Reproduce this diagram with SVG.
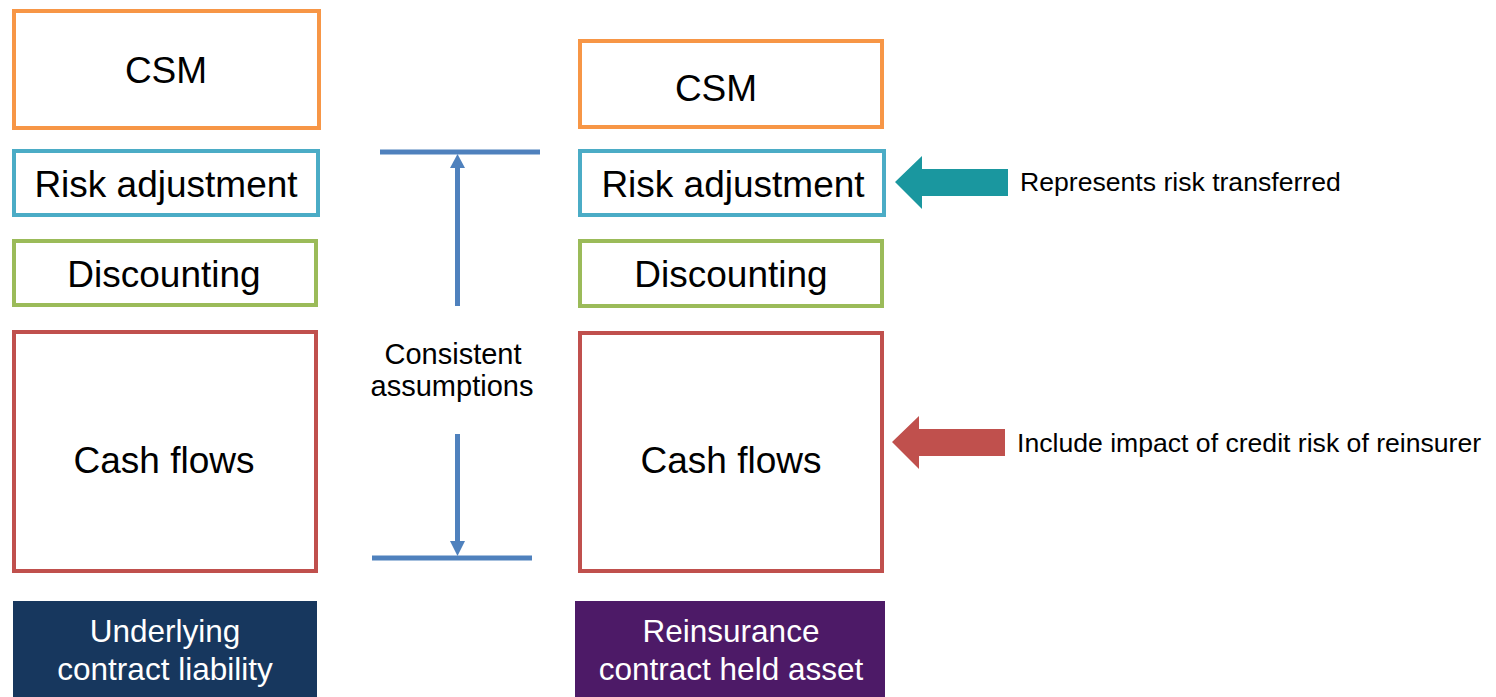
<svg xmlns="http://www.w3.org/2000/svg" width="1496" height="697" viewBox="0 0 1496 697">
  <defs>
    <style>
      .box { fill: #ffffff; stroke-width: 4; }
      .csm { stroke: #F79646; }
      .ra { stroke: #4BACC6; }
      .disc { stroke: #9BBB59; }
      .cf { stroke: #C0504D; }
      .lbl { font-family: "Liberation Sans", Arial, sans-serif; font-size: 37px; fill: #000000; text-anchor: middle; }
      .note { font-family: "Liberation Sans", Arial, sans-serif; font-size: 26.6px; fill: #000000; }
      .mid { font-family: "Liberation Sans", Arial, sans-serif; font-size: 29px; fill: #000000; text-anchor: middle; }
      .foot { font-family: "Liberation Sans", Arial, sans-serif; font-size: 31.5px; fill: #ffffff; text-anchor: middle; }
      .bl { stroke: #4F81BD; stroke-width: 5; fill: none; }
    </style>
  </defs>

  <g id="left-csm">
    <rect class="box csm" x="14" y="11" width="305" height="117"/>
    <text class="lbl" x="166" y="83">CSM</text>
  </g>
  <g id="left-risk">
    <rect class="box ra" x="14" y="151" width="304" height="64"/>
    <text class="lbl" x="166" y="197">Risk adjustment</text>
  </g>
  <g id="left-discounting">
    <rect class="box disc" x="14" y="241" width="302" height="64"/>
    <text class="lbl" x="164" y="287">Discounting</text>
  </g>
  <g id="left-cashflows">
    <rect class="box cf" x="14" y="332" width="302" height="239"/>
    <text class="lbl" x="164" y="473">Cash flows</text>
  </g>
  <g id="left-label">
    <rect x="13" y="601" width="304" height="96" fill="#17375E"/>
    <text class="foot" x="165" y="642">Underlying</text>
    <text class="foot" x="165" y="680">contract liability</text>
  </g>

  <g id="right-csm">
    <rect class="box csm" x="580" y="41" width="302" height="86"/>
    <text class="lbl" x="716" y="101">CSM</text>
  </g>
  <g id="right-risk">
    <rect class="box ra" x="580" y="151" width="304" height="64"/>
    <text class="lbl" x="733" y="197">Risk adjustment</text>
  </g>
  <g id="right-discounting">
    <rect class="box disc" x="580" y="241" width="302" height="65"/>
    <text class="lbl" x="731" y="287">Discounting</text>
  </g>
  <g id="right-cashflows">
    <rect class="box cf" x="580" y="333" width="302" height="238"/>
    <text class="lbl" x="731" y="473">Cash flows</text>
  </g>
  <g id="right-label">
    <rect x="575" y="601" width="310" height="96" fill="#4D1A67"/>
    <text class="foot" x="731" y="642">Reinsurance</text>
    <text class="foot" x="731" y="680">contract held asset</text>
  </g>

  <g id="consistent-label">
    <text class="mid" x="453" y="364">Consistent</text>
    <text class="mid" x="452" y="396">assumptions</text>
  </g>

  <g id="connectors">
    <line class="bl" x1="380" y1="152" x2="540" y2="152"/>
    <line class="bl" x1="372" y1="558" x2="532" y2="558"/>
    <line class="bl" x1="457.5" y1="306" x2="457.5" y2="166"/>
    <polygon points="457.5,154 450,168 465,168" fill="#4F81BD"/>
    <line class="bl" x1="457.5" y1="434" x2="457.5" y2="542"/>
    <polygon points="457.5,556 450,541 465,541" fill="#4F81BD"/>
  </g>

  <g id="arrow-risk">
    <polygon points="895,182 922,156 922,169 1008,169 1008,196 922,196 922,209" fill="#1A979F"/>
    <text class="note" x="1020" y="191">Represents risk transferred</text>
  </g>
  <g id="arrow-credit">
    <polygon points="892,442 919,416 919,429 1005,429 1005,456 919,456 919,469" fill="#C0504D"/>
    <text class="note" x="1017" y="452">Include impact of credit risk of reinsurer</text>
  </g>
</svg>
